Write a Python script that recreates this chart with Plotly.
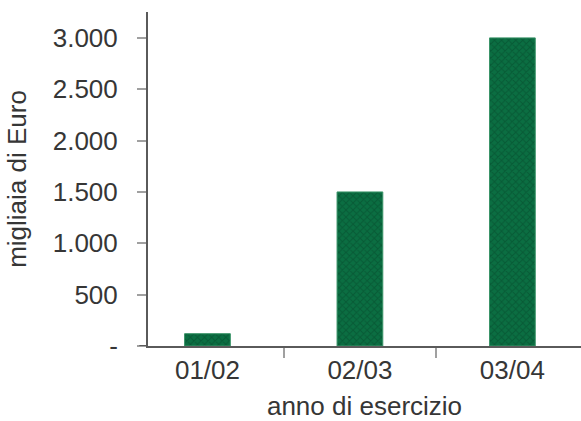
import plotly.graph_objects as go

# Data
years = ["01/02", "02/03", "03/04"]
values = [120, 1500, 3000]  # migliaia di Euro
y_tick_vals = [0, 500, 1000, 1500, 2000, 2500, 3000]
y_tick_text = ["-", "500", "1.000", "1.500", "2.000", "2.500", "3.000"]

font_family = "Liberation Sans, Arial, sans-serif"
text_color = "#363636"
axis_color = "#5a5a5a"
font_size = 26

fig = go.Figure(
    go.Bar(
        x=years,
        y=values,
        width=0.3,
        marker=dict(
            color="#0b6e42",
            line=dict(color="#3a9468", width=1),
            pattern=dict(shape="x", fgcolor="#05472a", bgcolor="#0b6e42",
                         size=5, solidity=0.35, fillmode="overlay"),
        ),
    )
)

fig.update_layout(
    width=581,
    height=421,
    margin=dict(l=148, r=0, t=12, b=75),
    plot_bgcolor="white",
    paper_bgcolor="white",
    showlegend=False,
    font=dict(family=font_family, size=font_size, color=text_color),
    xaxis=dict(
        type="category",
        range=[-0.39, 2.45],
        automargin=False,
        showline=True,
        linecolor=axis_color,
        linewidth=2,
        ticks="outside",
        tickson="boundaries",
        ticklen=10,
        tickwidth=2,
        tickcolor="#a0a0a0",
        showgrid=False,
        zeroline=False,
        tickfont=dict(size=font_size, color=text_color),
        ticklabelstandoff=0,
        title=dict(text="anno di esercizio", font=dict(size=font_size, color=text_color), standoff=15),
    ),
    yaxis=dict(
        range=[0, 3252],
        automargin=False,
        tickvals=y_tick_vals,
        ticktext=y_tick_text,
        showline=True,
        linecolor=axis_color,
        linewidth=2,
        ticks="outside",
        ticklen=9,
        tickwidth=2,
        tickcolor="#a0a0a0",
        showgrid=False,
        zeroline=False,
        tickfont=dict(size=font_size, color=text_color),
        ticklabelstandoff=14,
        title=dict(text="migliaia di Euro", font=dict(size=font_size, color=text_color), standoff=19),
    ),
)

# Short extension of the baseline to the left of the value axis
fig.add_shape(type="line", xref="paper", yref="y", x0=-0.02, x1=0, y0=0, y1=0,
              line=dict(color=axis_color, width=2))

fig.write_html("out.html")
